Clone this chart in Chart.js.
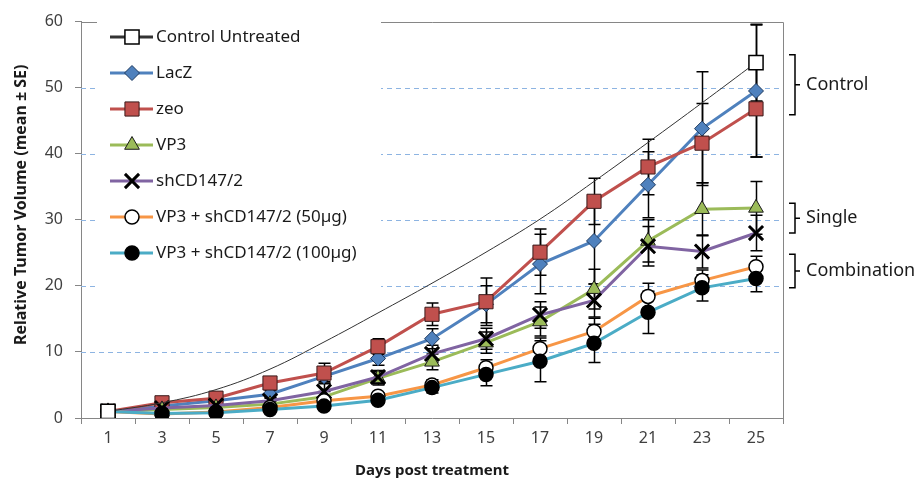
<!DOCTYPE html>
<html lang="en">
<head>
<meta charset="UTF-8">
<title>Relative Tumor Volume</title>
<script src="https://cdn.jsdelivr.net/npm/chart.js@4"></script>
<style>
  html, body { margin: 0; padding: 0; background: #fff; }
  #wrap { width: 922px; height: 484px; }
</style>
</head>
<body>
<div id="wrap"><canvas id="tumorChart" width="922" height="484"></canvas></div>
<script>
// days post treatment (category labels)
const days = ['1', '3', '5', '7', '9', '11', '13', '15', '17', '19', '21', '23', '25'];

// relative tumor volume, mean
const controlUntreated = [1, 2.3, 4.3, 7.4, 11.5, 15.9, 20.4, 25.1, 30.1, 35.8, 41.7, 47.7, 53.8];
const lacZ     = [1, 1.8, 2.6, 3.6, 6.3, 9.0, 12.0, 17.2, 23.3, 26.8, 35.3, 43.8, 49.5];
const zeo      = [1, 2.3, 3.0, 5.3, 6.8, 10.8, 15.7, 17.6, 25.1, 32.8, 38.0, 41.6, 46.8];
const vp3      = [1, 1.3, 1.6, 2.1, 3.2, 6.0, 8.5, 11.4, 14.6, 19.5, 26.8, 31.6, 31.8];
const shCD147  = [1, 1.5, 1.9, 2.6, 4.0, 6.2, 9.7, 12.0, 15.6, 17.8, 26.0, 25.2, 28.0];
const combo50  = [1, 0.6, 0.9, 1.6, 2.6, 3.3, 5.0, 7.6, 10.5, 13.1, 18.4, 20.8, 22.9];
const combo100 = [1, 0.7, 0.8, 1.3, 1.8, 2.7, 4.6, 6.6, 8.6, 11.3, 16.0, 19.7, 21.1];

// standard errors
const controlErr  = [0, 0, 0, 0, 0, 0, 0, 0, 0, 0, 0, 0, 5.8];
const lacZErr     = [0, 0.3, 0.4, 0.6, 0.8, 1.0, 1.5, 2.8, 4.5, 6.5, 5.0, 8.6, 10.0];
const zeoErr      = [0, 0.4, 0.5, 0.8, 1.5, 1.2, 1.7, 3.6, 3.5, 3.5, 4.2, 6.0, 7.3];
const vp3Err      = [0, 0.2, 0.3, 0.4, 0.8, 1.0, 1.2, 1.6, 2.2, 3.0, 3.2, 4.0, 4.0];
const shCD147Err  = [0, 0.2, 0.3, 0.5, 1.2, 1.0, 1.3, 1.6, 2.0, 2.5, 3.0, 2.5, 2.7];
const combo50Err  = [0, 0.1, 0.2, 0.3, 0.4, 0.5, 0.8, 1.2, 1.6, 2.0, 2.0, 1.6, 1.6];
const combo100Err = [0, 0.1, 0.2, 0.3, 0.4, 0.5, 0.8, 1.7, 3.1, 2.9, 3.2, 2.0, 2.0];

const yTicks = [0, 10, 20, 30, 40, 50, 60];

// group brackets on the right: [label, top value, bottom value]
const groups = [
  ['Control', 55.0, 45.9],
  ['Single', 32.5, 28.0],
  ['Combination', 24.8, 19.7]
];

const FONT = '"Noto Sans", "Open Sans", sans-serif';

const series = [
  { label: 'Control Untreated', data: controlUntreated, err: controlErr, line: '#333333', lw: 1, legendLw: 3,
    style: 'rect', r: 10, fill: '#ffffff', stroke: '#000000', bw: 1.5, ends: true },
  { label: 'LacZ', data: lacZ, err: lacZErr, line: '#4F81BD', lw: 3,
    style: 'rectRot', r: 7.5, fill: '#4F81BD', stroke: '#1F3A5F', bw: 1 },
  { label: 'zeo', data: zeo, err: zeoErr, line: '#C0504D', lw: 3,
    style: 'rect', r: 10, fill: '#C0504D', stroke: '#3a1a1a', bw: 1 },
  { label: 'VP3', data: vp3, err: vp3Err, line: '#9BBB59', lw: 3,
    style: 'triangle', r: 8.5, fill: '#9BBB59', stroke: '#1a1a1a', bw: 1 },
  { label: 'shCD147/2', data: shCD147, err: shCD147Err, line: '#8064A2', lw: 3,
    style: 'crossRot', r: 10, fill: '#000000', stroke: '#000000', bw: 3 },
  { label: 'VP3 + shCD147/2 (50µg)', data: combo50, err: combo50Err, line: '#F79646', lw: 3,
    style: 'circle', r: 7, fill: '#ffffff', stroke: '#000000', bw: 1.5 },
  { label: 'VP3 + shCD147/2 (100µg)', data: combo100, err: combo100Err, line: '#4BACC6', lw: 3,
    style: 'circle', r: 7, fill: '#000000', stroke: '#000000', bw: 1.5 }
];

function drawMarker(ctx, s, x, y) {
  const r = s.r;
  ctx.save();
  ctx.fillStyle = s.fill;
  ctx.strokeStyle = s.stroke;
  ctx.lineWidth = s.bw;
  ctx.beginPath();
  if (s.style === 'rect') {
    const side = r * Math.SQRT2;
    ctx.rect(x - side / 2, y - side / 2, side, side);
    ctx.fill(); ctx.stroke();
  } else if (s.style === 'rectRot') {
    ctx.moveTo(x, y - r); ctx.lineTo(x + r, y); ctx.lineTo(x, y + r); ctx.lineTo(x - r, y);
    ctx.closePath(); ctx.fill(); ctx.stroke();
  } else if (s.style === 'triangle') {
    const h = Math.sin(Math.PI / 3) * r;
    ctx.moveTo(x, y - r); ctx.lineTo(x + h, y + r / 2); ctx.lineTo(x - h, y + r / 2);
    ctx.closePath(); ctx.fill(); ctx.stroke();
  } else if (s.style === 'circle') {
    ctx.arc(x, y, r, 0, Math.PI * 2);
    ctx.fill(); ctx.stroke();
  } else if (s.style === 'crossRot') {
    const o = r * Math.SQRT1_2;
    ctx.moveTo(x - o, y - o); ctx.lineTo(x + o, y + o);
    ctx.moveTo(x + o, y - o); ctx.lineTo(x - o, y + o);
    ctx.stroke();
  }
  ctx.restore();
}

const decor = {
  id: 'decor',
  beforeDatasetsDraw(chart) {
    const ctx = chart.ctx;
    const a = chart.chartArea;
    const xs = chart.scales.x;
    const ys = chart.scales.y;
    ctx.save();

    // dashed gridlines
    ctx.strokeStyle = '#8DB4E2';
    ctx.lineWidth = 1;
    ctx.setLineDash([5, 4]);
    yTicks.forEach(v => {
      if (v === 0 || v === 60) return;
      const y = Math.round(ys.getPixelForValue(v)) + 0.5;
      ctx.beginPath(); ctx.moveTo(a.left, y); ctx.lineTo(a.right, y); ctx.stroke();
    });
    ctx.setLineDash([]);

    // top and right plot border
    ctx.strokeStyle = '#868686';
    ctx.beginPath();
    ctx.moveTo(a.left, Math.round(a.top) + 0.5);
    ctx.lineTo(Math.round(a.right) + 0.5, Math.round(a.top) + 0.5);
    ctx.lineTo(Math.round(a.right) + 0.5, a.bottom);
    ctx.stroke();

    // legend
    ctx.fillStyle = '#ffffff';
    ctx.fillRect(97, 22, 284, 272);
    series.forEach((s, i) => {
      const y = 37 + i * 36;
      ctx.strokeStyle = s.line;
      ctx.lineWidth = s.legendLw || s.lw;
      ctx.beginPath(); ctx.moveTo(110, y); ctx.lineTo(153, y); ctx.stroke();
      drawMarker(ctx, s, 132, y);
      ctx.fillStyle = '#1a1a1a';
      ctx.font = '17px ' + FONT;
      ctx.textAlign = 'left';
      ctx.textBaseline = 'middle';
      ctx.fillText(s.label, 156, y);
    });

    // error bars
    ctx.strokeStyle = '#000000';
    ctx.lineWidth = 1.5;
    series.forEach(s => {
      s.data.forEach((v, i) => {
        const e = s.err[i];
        if (!e) return;
        const x = Math.round(xs.getPixelForValue(i)) + 0.5;
        const y1 = ys.getPixelForValue(v + e);
        const y2 = ys.getPixelForValue(v - e);
        ctx.beginPath();
        ctx.moveTo(x, y1); ctx.lineTo(x, y2);
        ctx.moveTo(x - 6, y1); ctx.lineTo(x + 6, y1);
        ctx.moveTo(x - 6, y2); ctx.lineTo(x + 6, y2);
        ctx.stroke();
      });
    });
    ctx.restore();
  },
  afterDraw(chart) {
    const ctx = chart.ctx;
    const a = chart.chartArea;
    const ys = chart.scales.y;
    ctx.save();

    // group brackets
    ctx.strokeStyle = '#000000';
    ctx.lineWidth = 1.5;
    ctx.fillStyle = '#1a1a1a';
    ctx.font = '18px ' + FONT;
    ctx.textAlign = 'left';
    ctx.textBaseline = 'middle';
    groups.forEach(g => {
      const t = ys.getPixelForValue(g[1]);
      const b = ys.getPixelForValue(g[2]);
      const m = (t + b) / 2;
      const x = a.right + 12;
      ctx.beginPath();
      ctx.moveTo(x - 6, t); ctx.lineTo(x, t); ctx.lineTo(x, b); ctx.lineTo(x - 6, b);
      ctx.moveTo(x, m); ctx.lineTo(x + 5, m);
      ctx.stroke();
      ctx.fillText(g[0], x + 11, m);
    });

    // y axis title
    ctx.translate(21, (a.top + a.bottom) / 2 - 15);
    ctx.rotate(-Math.PI / 2);
    ctx.font = 'bold 16px ' + FONT;
    ctx.textAlign = 'center';
    ctx.fillText('Relative Tumor Volume (mean ± SE)', 0, 0);
    ctx.restore();
  }
};

const datasets = series.map((s, i) => ({
  label: s.label,
  data: s.data,
  borderColor: s.line,
  borderWidth: s.lw,
  backgroundColor: s.fill,
  pointStyle: s.style,
  pointRadius: s.ends ? s.data.map((v, j) => (j === 0 || j === s.data.length - 1) ? s.r : 0) : s.r,
  pointHoverRadius: s.r,
  pointBackgroundColor: s.fill,
  pointBorderColor: s.stroke,
  pointBorderWidth: s.bw,
  tension: s.ends ? 0.4 : 0,
  // control untreated sits on top, later series above earlier ones
  order: s.ends ? -10 : -i
}));

new Chart(document.getElementById('tumorChart').getContext('2d'), {
  type: 'line',
  data: { labels: days, datasets: datasets },
  options: {
    responsive: false,
    animation: false,
    devicePixelRatio: 1,
    layout: { padding: { top: 19, right: 139, left: 0, bottom: 0 } },
    plugins: { legend: { display: false }, tooltip: { enabled: false } },
    scales: {
      x: {
        type: 'category',
        offset: true,
        grid: { offset: true, drawOnChartArea: false, drawTicks: true, tickLength: 6, tickColor: '#868686' },
        border: { color: '#868686' },
        ticks: { color: '#404040', font: { size: 16, family: FONT }, padding: 5, maxRotation: 0, autoSkip: false },
        title: { display: true, text: 'Days post treatment', color: '#1a1a1a',
                 font: { size: 15, weight: 'bold', family: FONT }, padding: { top: 2 } },
        afterFit: s => { s.height = 66; }
      },
      y: {
        min: 0,
        max: 60,
        afterBuildTicks: s => { s.ticks = yTicks.map(v => ({ value: v })); },
        grid: { drawOnChartArea: false, drawTicks: true, tickLength: 6, tickColor: '#868686' },
        border: { color: '#868686' },
        ticks: { color: '#404040', font: { size: 16, family: FONT }, padding: 12 },
        afterFit: s => { s.width = 81; }
      }
    }
  },
  plugins: [decor]
});
</script>
</body>
</html>
